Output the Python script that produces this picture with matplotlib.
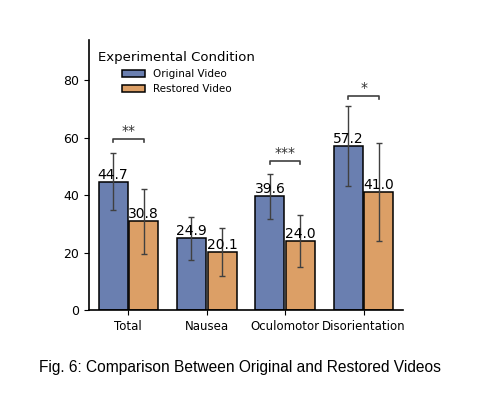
import numpy as np
import matplotlib
matplotlib.use("Agg")
import matplotlib.pyplot as plt

categories = ["Total", "Nausea", "Oculomotor", "Disorientation"]
original = [44.7, 24.9, 39.6, 57.2]
restored = [30.8, 20.1, 24.0, 41.0]
original_err = [9.8, 7.4, 7.8, 13.9]
restored_err = [11.3, 8.4, 9.0, 17.0]
sig_labels = ["**", "", "***", "*"]
sig_heights = [59.5, None, 52.0, 74.5]

fig = plt.figure(figsize=(4.79, 3.98), dpi=100)
ax = fig.add_axes([0.186, 0.221, 0.655, 0.679])

x = np.arange(len(categories))
w = 0.37
off = 0.195
c_orig = "#6a7fb0"
c_rest = "#dc9f66"

ax.bar(x - off, original, w, color=c_orig, edgecolor="black", linewidth=1.1, label="Original Video")
ax.bar(x + off, restored, w, color=c_rest, edgecolor="black", linewidth=1.1, label="Restored Video")
ax.errorbar(x - off, original, yerr=original_err, fmt="none", ecolor="#404040", elinewidth=1.0, capsize=2.5)
ax.errorbar(x + off, restored, yerr=restored_err, fmt="none", ecolor="#404040", elinewidth=1.0, capsize=2.5)

for i in range(len(categories)):
    ax.text(x[i] - off, original[i], f"{original[i]:.1f}", ha="center", va="bottom", fontsize=10)
    ax.text(x[i] + off, restored[i], f"{restored[i]:.1f}", ha="center", va="bottom", fontsize=10)
    if sig_labels[i]:
        h = sig_heights[i]
        ax.plot([x[i] - off, x[i] - off, x[i] + off, x[i] + off], [h - 1.2, h, h, h - 1.2],
                color="#404040", linewidth=1.2)
        ax.text(x[i], h + 0.3, sig_labels[i], ha="center", va="bottom", fontsize=10, color="#303030")

ax.set_xticks(x)
ax.set_xticklabels(categories, fontsize=8.5)
ax.set_yticks([0, 20, 40, 60, 80])
ax.tick_params(axis="y", labelsize=9)
ax.set_xlim(-0.5, 3.5)
ax.set_ylim(0, 94)
ax.spines["top"].set_visible(False)
ax.spines["right"].set_visible(False)
ax.spines["left"].set_linewidth(1.2)
ax.spines["bottom"].set_linewidth(1.2)

ax.legend(title="Experimental Condition", loc="upper left", bbox_to_anchor=(0.0, 0.994),
          frameon=False, fontsize=7.5, title_fontsize=9.5, handlelength=2.2, handleheight=0.7)

fig.text(0.5, 0.065, "Fig. 6: Comparison Between Original and Restored Videos", ha="center",
         fontsize=11.2, family="Liberation Sans")

fig.savefig("out.png", dpi=100)
